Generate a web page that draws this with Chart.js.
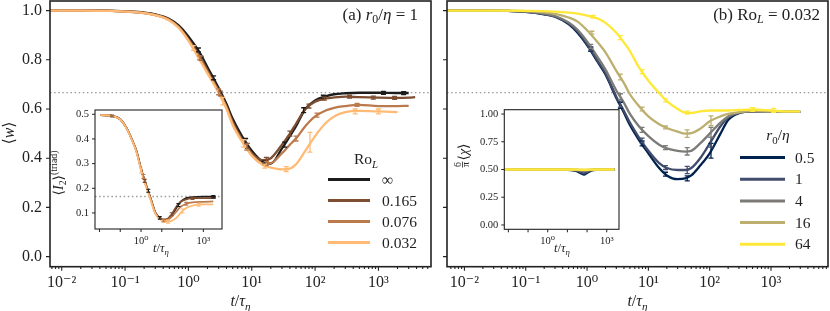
<!DOCTYPE html>
<html>
<head>
<meta charset="utf-8">
<script src="https://cdn.jsdelivr.net/npm/chart.js@4.4.1/dist/chart.umd.min.js"></script>
<style>
html, body { margin: 0; padding: 0; background: #fff; }
#wrap { position: relative; width: 830px; height: 311px; overflow: hidden; }
canvas { position: absolute; }
</style>
</head>
<body>
<div id="wrap">
  <canvas id="mainA" width="436" height="311" style="left:0;top:0"></canvas>
  <canvas id="mainB" width="394" height="311" style="left:436px;top:0"></canvas>
  <canvas id="insetA" width="190" height="160" style="left:40px;top:100px"></canvas>
  <canvas id="insetB" width="175" height="160" style="left:454px;top:100px"></canvas>
</div>
<script>
const FONT = "'Liberation Serif','DejaVu Serif',serif";
Chart.defaults.font.family = FONT;
Chart.defaults.color = '#222';

// ---- data ----
// t / tau_eta sample points of the main panels
const times = [0.005, 0.01, 0.02, 0.05, 0.1, 0.2, 0.3, 0.5, 0.7, 1, 1.5, 2, 3, 4, 5, 7, 10, 15, 20, 30, 40, 50, 70, 100, 150, 200, 300, 500, 1000, 2000, 3000, 3800];

// (a) r0/eta = 1, <w> for different Ro_L
const roLabels = ['∞', '0.165', '0.076', '0.032'];
const wInf  = [1, 1, 1, 1, 0.997, 0.992, 0.985, 0.966, 0.94, 0.895, 0.83, 0.77, 0.685, 0.62, 0.56, 0.49, 0.43, 0.385, 0.378, 0.44, 0.49, 0.53, 0.6, 0.635, 0.652, 0.66, 0.664, 0.666, 0.666, 0.665, 0.665, null];
const w0165 = [1, 1, 1, 1, 0.996, 0.991, 0.983, 0.963, 0.935, 0.885, 0.815, 0.757, 0.675, 0.61, 0.548, 0.478, 0.42, 0.392, 0.4, 0.455, 0.5, 0.54, 0.6, 0.63, 0.643, 0.647, 0.65, 0.648, 0.646, 0.645, 0.646, 0.648];
const w0076 = [1, 1, 1, 1, 0.996, 0.99, 0.982, 0.962, 0.932, 0.88, 0.808, 0.75, 0.67, 0.605, 0.54, 0.472, 0.415, 0.378, 0.38, 0.42, 0.455, 0.48, 0.53, 0.57, 0.595, 0.605, 0.612, 0.617, 0.612, 0.612, 0.613, null];
const w0032 = [1, 1, 1, 0.999, 0.996, 0.99, 0.982, 0.96, 0.93, 0.878, 0.8, 0.745, 0.665, 0.6, 0.535, 0.468, 0.41, 0.372, 0.362, 0.355, 0.358, 0.375, 0.43, 0.49, 0.545, 0.57, 0.587, 0.592, 0.59, 0.587, null, null];

// error bars [t, value, half width]
const errInf  = [[1.44, 0.84, 0.008], [2.5, 0.727, 0.008], [8, 0.47, 0.01], [16, 0.383, 0.006], [33, 0.455, 0.01], [66, 0.595, 0.01], [135, 0.65, 0.006], [1200, 0.666, 0.006], [2500, 0.665, 0.006]];
const err0165 = [[1.6, 0.806, 0.008], [3.2, 0.663, 0.01], [8.5, 0.45, 0.01], [17, 0.395, 0.008], [40, 0.5, 0.01], [80, 0.612, 0.008], [140, 0.642, 0.006], [350, 0.65, 0.006], [830, 0.646, 0.006], [1800, 0.645, 0.006]];
const err0076 = [[1.5, 0.808, 0.008], [3, 0.67, 0.012], [8.3, 0.445, 0.012], [17, 0.378, 0.008], [50, 0.48, 0.01], [107, 0.575, 0.008], [460, 0.617, 0.006]];
const err0032 = [[1.2, 0.848, 0.01], [3.5, 0.632, 0.015], [7.4, 0.46, 0.015], [16, 0.368, 0.008], [35, 0.356, 0.01], [83, 0.465, 0.04], [430, 0.59, 0.01], [1000, 0.59, 0.01]];

// (b) Ro_L = 0.032, <w> for different r0/eta
const r0Labels = ['0.5', '1', '4', '16', '64'];
const wR05 = [1, 1, 1, 0.999, 0.995, 0.985, 0.975, 0.945, 0.91, 0.86, 0.79, 0.74, 0.645, 0.585, 0.535, 0.475, 0.42, 0.36, 0.33, 0.315, 0.318, 0.33, 0.37, 0.42, 0.5, 0.555, 0.583, 0.59, 0.59, 0.588, 0.588, null];
const wR1  = [1, 1, 1, 0.999, 0.995, 0.986, 0.976, 0.948, 0.915, 0.865, 0.795, 0.745, 0.65, 0.592, 0.545, 0.485, 0.43, 0.38, 0.36, 0.352, 0.352, 0.36, 0.4, 0.46, 0.53, 0.565, 0.585, 0.59, 0.59, 0.588, 0.588, null];
const wR4  = [1, 1, 1, 0.999, 0.996, 0.988, 0.978, 0.952, 0.922, 0.875, 0.81, 0.76, 0.675, 0.625, 0.58, 0.53, 0.49, 0.455, 0.44, 0.43, 0.427, 0.43, 0.46, 0.5, 0.545, 0.57, 0.585, 0.59, 0.59, 0.588, 0.588, null];
const wR16 = [1, 1, 1, 1, 0.998, 0.993, 0.987, 0.972, 0.955, 0.92, 0.87, 0.83, 0.755, 0.705, 0.66, 0.612, 0.57, 0.538, 0.523, 0.508, 0.5, 0.502, 0.52, 0.55, 0.57, 0.58, 0.587, 0.592, 0.59, 0.588, 0.588, null];
const wR64 = [1, 1, 1, 1, 0.999, 0.998, 0.996, 0.992, 0.988, 0.98, 0.968, 0.95, 0.91, 0.87, 0.835, 0.77, 0.715, 0.665, 0.632, 0.6, 0.585, 0.584, 0.59, 0.594, 0.594, 0.594, 0.596, 0.598, 0.594, 0.59, 0.59, null];

const errR05 = [[1.15, 0.842, 0.008], [3.5, 0.615, 0.012], [7.9, 0.46, 0.01], [19, 0.335, 0.008], [43, 0.318, 0.01], [105, 0.43, 0.03]];
const errR1  = [[1.15, 0.845, 0.008], [3.5, 0.62, 0.012], [7.9, 0.472, 0.01], [19, 0.362, 0.008], [43, 0.352, 0.015], [105, 0.465, 0.02]];
const errR4  = [[1.15, 0.855, 0.008], [3.5, 0.65, 0.012], [7.9, 0.515, 0.01], [19, 0.443, 0.008], [43, 0.428, 0.015], [105, 0.505, 0.02]];
const errR16 = [[1.2, 0.91, 0.006], [3.5, 0.73, 0.012], [7.9, 0.6, 0.008], [19, 0.525, 0.006], [43, 0.5, 0.015], [105, 0.552, 0.02]];
const errR64 = [[1.25, 0.975, 0.005], [3.5, 0.89, 0.008], [7.9, 0.752, 0.008], [19, 0.635, 0.006], [43, 0.585, 0.006], [500, 0.598, 0.008], [1100, 0.594, 0.008]];

// inset (a): <I2>^(triad)
const insetTimesA = [0.011, 0.05, 0.1, 0.2, 0.4, 0.6, 1, 1.5, 2, 3, 5, 8, 12, 20, 30, 50, 80, 150, 300, 1000, 3000, 4000];
const i2Inf  = [0.497, 0.492, 0.48, 0.445, 0.39, 0.352, 0.28, 0.23, 0.2, 0.155, 0.1, 0.08, 0.072, 0.075, 0.09, 0.12, 0.145, 0.16, 0.164, 0.166, 0.166, 0.166];
const i20165 = [0.497, 0.492, 0.48, 0.445, 0.39, 0.352, 0.28, 0.23, 0.2, 0.155, 0.1, 0.08, 0.072, 0.078, 0.095, 0.125, 0.145, 0.155, 0.16, 0.16, 0.16, 0.161];
const i20076 = [0.497, 0.492, 0.48, 0.445, 0.39, 0.35, 0.278, 0.228, 0.198, 0.153, 0.098, 0.078, 0.07, 0.073, 0.085, 0.105, 0.125, 0.137, 0.143, 0.145, 0.147, null];
const i20032 = [0.497, 0.492, 0.479, 0.443, 0.387, 0.347, 0.272, 0.222, 0.192, 0.148, 0.095, 0.075, 0.067, 0.065, 0.068, 0.08, 0.1, 0.12, 0.13, 0.135, 0.135, null];
const errI2Inf  = [[2.25, 0.19, 0.006], [8, 0.08, 0.005], [63, 0.132, 0.006], [3000, 0.166, 0.005]];
const errI20165 = [[0.04, 0.493, 0.004], [1.5, 0.23, 0.006], [30, 0.095, 0.006], [300, 0.16, 0.005]];
const errI20076 = [[1.3, 0.248, 0.008], [12, 0.07, 0.006], [150, 0.137, 0.006]];
const errI20032 = [[1, 0.272, 0.01], [20, 0.065, 0.006], [100, 0.108, 0.008], [600, 0.133, 0.006]];

// inset (b): 6/pi <chi>
const insetTimesB = [0.006, 0.1, 1, 5, 15, 30, 50, 70, 100, 200, 500, 2500];
const chiR05 = [0.5, 0.5, 0.5, 0.499, 0.495, 0.485, 0.465, 0.455, 0.47, 0.495, 0.5, 0.5];
const chiR1  = [0.5, 0.5, 0.5, 0.5, 0.497, 0.49, 0.475, 0.465, 0.478, 0.497, 0.5, 0.5];
const chiR4  = [0.5, 0.5, 0.5, 0.5, 0.498, 0.495, 0.49, 0.488, 0.49, 0.498, 0.5, 0.5];
const chiR16 = [0.5, 0.5, 0.5, 0.5, 0.5, 0.498, 0.496, 0.495, 0.496, 0.499, 0.5, 0.5];
const chiR64 = [0.5, 0.5, 0.5, 0.5, 0.5, 0.499, 0.498, 0.497, 0.498, 0.5, 0.5, 0.5];

// ticks
const xTickVals = [0.01, 0.1, 1, 10, 100, 1000];
const xTickText = ['10⁻²', '10⁻¹', '10⁰', '10¹', '10²', '10³'];
const insetTickVals = [1, 1000];
const insetTickText = ['10⁰', '10³'];
const wTicks = [0, 0.2, 0.4, 0.6, 0.8, 1.0];
const i2Ticks = [0.1, 0.2, 0.3, 0.4, 0.5];
const chiTicks = [0, 0.25, 0.5, 0.75, 1.0];

const copper = ['#1c1c1c', '#7d4e31', '#bb7a4c', '#ffbb76'];
const cividis = ['#00224e', '#414d6b', '#7c7b78', '#bcaf6f', '#fee838'];

// ---- helpers ----
const decos = {};

function partFont(f, size) {
  const small = f.includes('sub') || f.includes('sup');
  return (f[0] === 'i' ? 'italic ' : '') + (small ? size * 0.7 : size) + 'px ' + FONT;
}
function partWidth(ctx, p, size) {
  const f = p[1] || '';
  if (f === 'frac') {
    ctx.font = (size * 0.7) + 'px ' + FONT;
    const [a, b] = p[0].split('|');
    return Math.max(ctx.measureText(a).width, ctx.measureText(b).width) + 3;
  }
  ctx.font = partFont(f, size);
  return ctx.measureText(p[0]).width;
}
function drawRich(ctx, parts, x, y, size, align, rot) {
  ctx.save();
  ctx.translate(x, y);
  if (rot) ctx.rotate(rot);
  let w = 0;
  parts.forEach(p => w += partWidth(ctx, p, size));
  let cx = align === 'center' ? -w / 2 : (align === 'right' ? -w : 0);
  const base = size * 0.33;
  ctx.fillStyle = '#222';
  ctx.textBaseline = 'alphabetic';
  parts.forEach(p => {
    const f = p[1] || '';
    const pw = partWidth(ctx, p, size);
    if (f === 'frac') {
      const [a, b] = p[0].split('|');
      ctx.font = (size * 0.7) + 'px ' + FONT;
      ctx.textAlign = 'center';
      ctx.fillText(a, cx + pw / 2, -size * 0.12);
      ctx.fillText(b, cx + pw / 2, size * 0.45);
      ctx.fillRect(cx + 1, -size * 0.07, pw - 2, 0.8);
      ctx.textAlign = 'left';
    } else {
      ctx.font = partFont(f, size);
      ctx.textAlign = 'left';
      let dy = 0;
      if (f.includes('sub')) dy = size * 0.22;
      if (f.includes('sup')) dy = -size * 0.38;
      ctx.fillText(p[0], cx, base + dy);
    }
    cx += pw;
  });
  ctx.restore();
}

function isMajorLog(v) {
  const m = v / Math.pow(10, Math.floor(Math.log10(v) + 1e-9));
  return Math.abs(m - 1) < 1e-6;
}

const decoPlugin = {
  id: 'deco',
  beforeDatasetsDraw(chart) {
    const d = decos[chart.canvas.id];
    if (!d || !d.fill) return;
    const a = chart.chartArea, ctx = chart.ctx;
    ctx.save();
    ctx.fillStyle = '#fff';
    ctx.fillRect(a.left, a.top, a.right - a.left, a.bottom - a.top);
    ctx.restore();
  },
  afterDatasetsDraw(chart) {
    const d = decos[chart.canvas.id];
    const ctx = chart.ctx, xs = chart.scales.x, ys = chart.scales.y, a = chart.chartArea;
    ctx.save();
    ctx.beginPath();
    ctx.rect(a.left, a.top, a.right - a.left, a.bottom - a.top);
    ctx.clip();
    chart.data.datasets.forEach(ds => {
      if (!ds.errs) return;
      ctx.strokeStyle = ds.borderColor;
      ctx.lineWidth = d.errW;
      ds.errs.forEach(e => {
        const px = xs.getPixelForValue(e[0]);
        const y0 = ys.getPixelForValue(e[1] - e[2]);
        const y1 = ys.getPixelForValue(e[1] + e[2]);
        ctx.beginPath();
        ctx.moveTo(px, y0); ctx.lineTo(px, y1);
        ctx.moveTo(px - d.cap, y0); ctx.lineTo(px + d.cap, y0);
        ctx.moveTo(px - d.cap, y1); ctx.lineTo(px + d.cap, y1);
        ctx.stroke();
      });
    });
    ctx.restore();
  },
  afterDraw(chart) {
    const d = decos[chart.canvas.id];
    const ctx = chart.ctx, a = chart.chartArea, xs = chart.scales.x, ys = chart.scales.y;
    ctx.save();
    // frame
    ctx.strokeStyle = '#222';
    ctx.lineWidth = d.frameW;
    ctx.strokeRect(a.left, a.top, a.right - a.left, a.bottom - a.top);
    // tick marks
    ctx.lineWidth = d.tickW;
    ctx.beginPath();
    xs.ticks.forEach(t => {
      const px = xs.getPixelForValue(t.value);
      const len = isMajorLog(t.value) ? d.major : d.minor;
      ctx.moveTo(px, a.bottom); ctx.lineTo(px, a.bottom + len);
    });
    ys.ticks.forEach(t => {
      const py = ys.getPixelForValue(t.value);
      ctx.moveTo(a.left, py); ctx.lineTo(a.left - d.major, py);
    });
    ctx.stroke();
    ctx.restore();
    // texts
    (d.texts || []).forEach(t => drawRich(ctx, t.parts, t.x, t.y, t.size, t.align, t.rot));
    // legend
    if (d.legend) {
      const L = d.legend;
      drawRich(ctx, L.title, L.titleX, L.titleY, L.size, 'center');
      let row = 0;
      chart.data.datasets.forEach(ds => {
        if (ds.lab === undefined) return;
        const y = L.y0 + row * L.dy;
        ctx.save();
        ctx.strokeStyle = ds.borderColor;
        ctx.lineWidth = 3;
        ctx.beginPath(); ctx.moveTo(L.x1, y); ctx.lineTo(L.x2, y); ctx.stroke();
        ctx.restore();
        drawRich(ctx, [[ds.lab]], L.tx, y, L.size, 'left');
        row++;
      });
    }
  }
};
Chart.register(decoPlugin);

function series(ts, vs, color, lw, order, errs, lab) {
  return {
    data: ts.map((t, i) => ({ x: t, y: vs[i] })).filter(p => p.y !== null),
    borderColor: color, backgroundColor: color, borderWidth: lw,
    pointRadius: 0, cubicInterpolationMode: 'monotone', order, errs, lab
  };
}
function refLine(xmin, xmax, y) {
  return {
    data: [{ x: xmin, y }, { x: xmax, y }], borderColor: '#9a9a9a', borderWidth: 1.3,
    borderDash: [1.5, 2.6], pointRadius: 0, order: 20
  };
}
function logTickList(min, max, onlyMajor) {
  const out = [];
  for (let e = -4; e <= 4; e++) {
    for (let k = 1; k <= 9; k++) {
      if (onlyMajor && k > 1) continue;
      const v = k * Math.pow(10, e);
      if (v >= min && v <= max) out.push(v);
    }
  }
  return out;
}
function logAxis(min, max, vals, texts, onlyMajor, size, pad, h) {
  return {
    type: 'logarithmic', min, max,
    grid: { display: false, drawTicks: false }, border: { display: false },
    afterBuildTicks: s => { s.ticks = logTickList(min, max, onlyMajor).map(v => ({ value: v })); },
    afterFit: s => { s.height = h; s.paddingLeft = 0; s.paddingRight = 0; },
    ticks: {
      autoSkip: false, maxRotation: 0, minRotation: 0, padding: pad, font: { size },
      callback: v => {
        const k = vals.findIndex(m => Math.abs(v / m - 1) < 1e-6);
        return k >= 0 ? texts[k] : '';
      }
    }
  };
}
function linAxis(min, max, list, digits, size, pad, w, show) {
  return {
    type: 'linear', min, max,
    grid: { display: false, drawTicks: false }, border: { display: false },
    afterBuildTicks: s => { s.ticks = list.map(v => ({ value: v })); },
    afterFit: s => { s.width = w; s.paddingTop = 0; s.paddingBottom = 0; },
    ticks: { padding: pad, font: { size }, callback: v => show ? v.toFixed(digits) : '' }
  };
}
function makeChart(id, datasets, xs, ys, pad, deco) {
  decos[id] = deco;
  return new Chart(document.getElementById(id), {
    type: 'line',
    data: { datasets },
    options: {
      responsive: false, animation: false, devicePixelRatio: 1, events: [],
      layout: { padding: pad },
      plugins: { legend: { display: false }, tooltip: { enabled: false } },
      scales: { x: xs, y: ys }
    }
  });
}

const xlabel = [['t', 'i'], ['/'], ['τ', 'i'], ['η', 'isub']];

// ---- panel (a) ----
const axA = { min: 0.00653, max: 6760 };
makeChart('mainA', [
  series(times, w0032, copper[3], 2.3, 1, err0032, roLabels[3]),
  series(times, w0076, copper[2], 2.3, 2, err0076, roLabels[2]),
  series(times, w0165, copper[1], 2.3, 3, err0165, roLabels[1]),
  series(times, wInf, copper[0], 2.3, 4, errInf, roLabels[0]),
  refLine(axA.min, axA.max, 2 / 3)
].reverse(),
  logAxis(axA.min, axA.max, xTickVals, xTickText, false, 16, 6, 44.3),
  linAxis(-0.041, 1.039, wTicks, 1, 16, 8, 50, true),
  { left: 0, right: 5, top: 1, bottom: 0 },
  {
    frameW: 1.6, tickW: 1.1, major: 4, minor: 2.2, errW: 1.3, cap: 2.5,
    texts: [
      { parts: [['(a) '], ['r', 'i'], ['0', 'sub'], ['/'], ['η', 'i'], [' = 1']], x: 418, y: 14, size: 17, align: 'right' },
      { parts: [['⟨'], ['w', 'i'], ['⟩']], x: 9, y: 133, size: 16, align: 'center', rot: -Math.PI / 2 },
      { parts: xlabel, x: 240.5, y: 301, size: 16, align: 'center' }
    ],
    legend: { title: [['Ro'], ['L', 'isub']], titleX: 366, titleY: 159, x1: 328, x2: 370, tx: 382, y0: 179.5, dy: 21, size: 15.5 }
  });

// ---- panel (b) ----
const axB = { min: 0.0052, max: 8500 };
makeChart('mainB', [
  series(times, wR64, cividis[4], 2.3, 1, errR64, r0Labels[4]),
  series(times, wR16, cividis[3], 2.3, 2, errR16, r0Labels[3]),
  series(times, wR4, cividis[2], 2.3, 3, errR4, r0Labels[2]),
  series(times, wR1, cividis[1], 2.3, 4, errR1, r0Labels[1]),
  series(times, wR05, cividis[0], 2.3, 5, errR05, r0Labels[0]),
  refLine(axB.min, axB.max, 2 / 3)
].reverse(),
  logAxis(axB.min, axB.max, xTickVals, xTickText, false, 16, 6, 44.3),
  linAxis(-0.041, 1.039, wTicks, 1, 16, 0, 11, false),
  { left: 0, right: 2, top: 1, bottom: 0 },
  {
    frameW: 1.6, tickW: 1.1, major: 4, minor: 2.2, errW: 1.3, cap: 2.5,
    texts: [
      { parts: [['(b) Ro'], ['L', 'isub'], [' = 0.032']], x: 384, y: 14, size: 17, align: 'right' },
      { parts: xlabel, x: 201.5, y: 301, size: 16, align: 'center' }
    ],
    legend: { title: [['r', 'i'], ['0', 'sub'], ['/'], ['η', 'i']], titleX: 342, titleY: 135, x1: 304, x2: 349, tx: 359, y0: 157.5, dy: 21.7, size: 15.5 }
  });

// ---- inset (a) ----
const axIA = { min: 0.0061, max: 7900 };
makeChart('insetA', [
  series(insetTimesA, i20032, copper[3], 1.8, 1, errI20032),
  series(insetTimesA, i20076, copper[2], 1.8, 2, errI20076),
  series(insetTimesA, i20165, copper[1], 1.8, 3, errI20165),
  series(insetTimesA, i2Inf, copper[0], 1.8, 4, errI2Inf),
  refLine(axIA.min, axIA.max, 1 / 6)
].reverse(),
  logAxis(axIA.min, axIA.max, insetTickVals, insetTickText, true, 10.5, 6, 31),
  linAxis(0.035, 0.5174, i2Ticks, 1, 10.5, 6, 55, true),
  { left: 0, right: 8, top: 10, bottom: 0 },
  {
    fill: true, frameW: 1.1, tickW: 1, major: 3, minor: 3, errW: 1.1, cap: 2,
    texts: [
      { parts: [['⟨'], ['I', 'i'], ['2', 'sub'], ['⟩'], ['(triad)', 'sup']], x: 18, y: 73, size: 14, align: 'center', rot: -Math.PI / 2 },
      { parts: xlabel, x: 121, y: 148, size: 12.5, align: 'center' }
    ]
  });

// ---- inset (b) ----
const axIB = { min: 0.0062, max: 4200 };
makeChart('insetB', [
  series(insetTimesB, chiR64, cividis[4], 2.4, 1),
  series(insetTimesB, chiR16, cividis[3], 2.4, 2),
  series(insetTimesB, chiR4, cividis[2], 2.4, 3),
  series(insetTimesB, chiR1, cividis[1], 2.4, 4),
  series(insetTimesB, chiR05, cividis[0], 2.4, 5)
].reverse(),
  logAxis(axIB.min, axIB.max, insetTickVals, insetTickText, true, 10.5, 6, 30.7),
  linAxis(-0.039, 1.039, chiTicks, 2, 10.5, 6, 50.3, true),
  { left: 0, right: 10, top: 9.7, bottom: 0 },
  {
    fill: true, frameW: 1.1, tickW: 1, major: 3, minor: 3, errW: 1.1, cap: 2,
    texts: [
      { parts: [['6|π', 'frac'], ['⟨'], ['χ', 'i'], ['⟩']], x: 9, y: 56, size: 14, align: 'center', rot: -Math.PI / 2 },
      { parts: xlabel, x: 108, y: 148, size: 12.5, align: 'center' }
    ]
  });
</script>
</body>
</html>
